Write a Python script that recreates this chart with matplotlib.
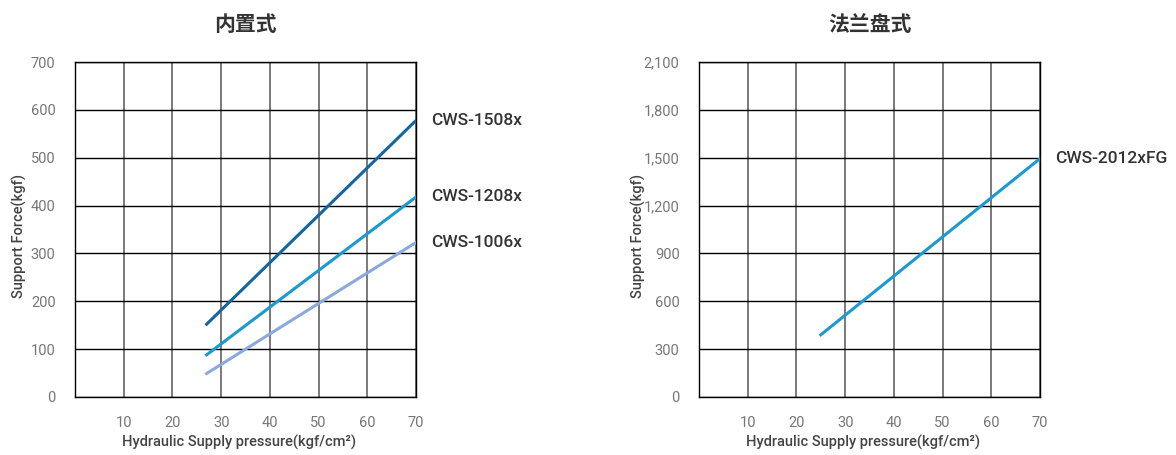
import matplotlib.pyplot as plt

plt.rcParams['font.family'] = ['Roboto', 'Noto Sans CJK SC', 'DejaVu Sans']

# pressure range each model was measured over (kgf/cm2)
pressure_inner = [27, 70]
force_1508 = [152, 578]
force_1208 = [88, 418]
force_1006 = [49, 323]

pressure_flange = [25, 70]
force_2012fg = [390, 1495]

x_ticks = [10, 20, 30, 40, 50, 60, 70]
y_ticks_inner = [0, 100, 200, 300, 400, 500, 600, 700]
y_ticks_flange = [0, 300, 600, 900, 1200, 1500, 1800, 2100]

fig = plt.figure(figsize=(11.76, 4.55), dpi=100)
ax1 = fig.add_axes([0.0638, 0.1275, 0.29, 0.7362])
ax2 = fig.add_axes([0.5944, 0.1275, 0.29, 0.7362])

label_color = '#777777'
dark = '#444444'


def style_axes(ax, yticks, title, ylab_x):
    ax.set_xlim(0, 70)
    ax.set_ylim(yticks[0], yticks[-1])
    ax.set_xticks(x_ticks)
    ax.set_yticks(yticks)
    ax.set_yticklabels(['{:,}'.format(v) for v in yticks])
    ax.tick_params(length=0, labelsize=10.5, labelcolor=label_color)
    ax.tick_params(axis='x', pad=14)
    ax.tick_params(axis='y', pad=14)
    for v in x_ticks:
        ax.axvline(v, color='#555555', lw=1.1, zorder=1)
    for v in yticks:
        ax.axhline(v, color='black', lw=1.0, zorder=1)
    for s in ax.spines.values():
        s.set_color('black')
        s.set_linewidth(1.0)
    ax.set_xlabel('Hydraulic Supply pressure(kgf/cm²)', fontsize=10.5,
                  color=dark, fontweight='medium')
    ax.xaxis.set_label_coords(0.48, -0.113)
    ax.set_ylabel('Support Force(kgf)', fontsize=10.5, color=dark,
                  fontweight='medium')
    ax.yaxis.set_label_coords(ylab_x, 0.48)
    ax.set_title(title, fontsize=15, color='#333333', fontweight='bold',
                 pad=22)


style_axes(ax1, y_ticks_inner, '内置式', -0.14)
style_axes(ax2, y_ticks_flange, '法兰盘式', -0.155)

ax1.plot(pressure_inner, force_1508, color='#1466a3', lw=2.2, zorder=3)
ax1.plot(pressure_inner, force_1208, color='#1a9ad0', lw=2.2, zorder=3)
ax1.plot(pressure_inner, force_1006, color='#8aa9dc', lw=2.2, zorder=3)
ax2.plot(pressure_flange, force_2012fg, color='#1a9ad0', lw=2.2, zorder=3)

series_text = dict(fontsize=12.5, color='#333333', fontweight='medium',
                   va='center', ha='left', clip_on=False)
ax1.annotate('CWS-1508x', xy=(70, force_1508[-1]), xytext=(11, 0),
             textcoords='offset points', **series_text)
ax1.annotate('CWS-1208x', xy=(70, force_1208[-1]), xytext=(11, 0),
             textcoords='offset points', **series_text)
ax1.annotate('CWS-1006x', xy=(70, force_1006[-1]), xytext=(11, 0),
             textcoords='offset points', **series_text)
ax2.annotate('CWS-2012xFG', xy=(70, force_2012fg[-1]), xytext=(11, 0),
             textcoords='offset points', **series_text)

plt.savefig('out.png', dpi=100)
